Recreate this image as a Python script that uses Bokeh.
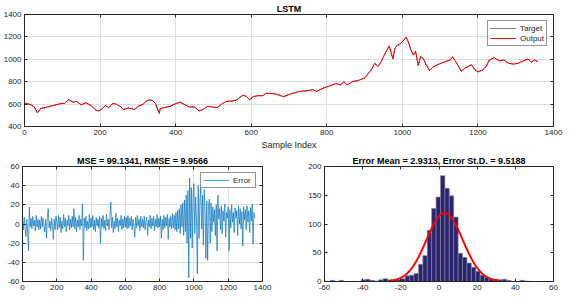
import numpy as np
from bokeh.plotting import figure
from bokeh.layouts import column, row
from bokeh.models import LinearAxis, FixedTicker, Legend, LegendItem, Range1d, PrintfTickFormatter
from bokeh.embed import file_html
from bokeh.resources import INLINE

# ---------------- data ----------------
ts_index = [0, 9, 17, 26, 34, 43, 60, 77, 94, 107, 116, 129, 137, 150, 163, 176, 189, 197, 206, 214,
            223, 232, 240, 253, 262, 275, 283, 292, 300, 313, 322, 330, 339, 347, 354, 357, 359, 369, 386, 399,
            412, 425, 437, 450, 462, 472, 485, 498, 510, 523, 536, 549, 562, 570, 579, 588, 596, 605, 618, 631,
            639, 652, 665, 678, 686, 704, 726, 747, 764, 773, 790, 807, 824, 837, 845, 854, 867, 884, 901, 909,
            918, 927, 935, 944, 952, 959, 965, 969, 975, 980, 986, 995, 1003, 1010, 1016, 1022, 1029, 1035, 1042, 1048,
            1055, 1063, 1072, 1080, 1089, 1102, 1115, 1127, 1133, 1140, 1149, 1156, 1166, 1174, 1183, 1192, 1200, 1213, 1222, 1230,
            1243, 1256, 1269, 1281, 1294, 1307, 1320, 1333, 1341, 1350, 1359]
target_vals = [607, 603, 594, 574, 522, 560, 574, 588, 603, 607, 640, 617, 626, 594, 612, 588, 545, 539, 560, 588,
               568, 603, 603, 580, 551, 565, 560, 551, 580, 597, 626, 638, 632, 603, 539, 518, 560, 568, 580, 603,
               617, 594, 574, 574, 539, 551, 580, 574, 568, 603, 626, 626, 638, 661, 681, 667, 638, 667, 675, 675,
               696, 696, 690, 675, 667, 690, 713, 719, 728, 713, 742, 762, 783, 771, 800, 771, 800, 812, 835, 870,
               907, 965, 936, 980, 1038, 1081, 1119, 1072, 1003, 1096, 1125, 1139, 1168, 1197, 1154, 1090, 1038, 1072, 945, 1023,
               1009, 951, 899, 928, 945, 965, 980, 994, 1023, 986, 936, 893, 922, 936, 951, 907, 887, 907, 936, 994,
               1014, 986, 994, 965, 957, 965, 986, 1003, 974, 994, 980]
output_vals = list(target_vals)

err_step = 5
error_vals = [
    3, -6, 7, -4, -13, 5, -9, -28, 18, -3, 6, -5, 8, -2, 4, -7, 9, -3, 5, -6,
    4, -5, 8, -3, 6, -2, -8, 5, -15, 7, 16, -4, 3, -7, 6, -2, -16, 5, -6, 8,
    2, -6, 9, -4, 7, -9, 3, -5, 10, -3, 6, -8, 4, -2, 9, -6, 5, -4, 8, -3,
    16, -5, 7, -8, 4, -3, 9, -6, 5, -2, 21, -38, 6, -4, 8, -7, 3, -5, 10, -4,
    6, -3, 9, -6, 4, -8, 7, -2, 5, -4, 8, -20, 6, -3, 9, -5, 4, -7, 10, -2,
    5, -6, 8, 23, -4, 7, -9, 3, -5, 11, -3, 6, -8, 4, -2, 9, -6, 5, -4, 8,
    -3, 7, -5, 9, -4, 6, -2, 8, -6, 5, -3, -14, 7, -4, 9, -2, 5, -7, 8, -3,
    5, -4, 8, -6, 3, 7, -12, 4, -3, 9, -5, 6, -2, 8, -7, 5, -3, 10, -4, 6,
    -3, 8, -15, 5, -6, 9, -4, 7, -2, 10, -16, 6, -3, 8, -5, 11, -4, 9, -6, 12,
    -8, 14, -5, 16, -10, 20, -3, 22, -12, 25, -8, 30, -20, 35, -56, 48, -15, 38, -25, 32,
    42, -10, 28, 5, -52, 40, -15, 25, 38, -5, 30, -22, 36, 12, -36, 24, -38, 18, 26, -20,
    22, -8, 18, 2, 15, -12, 20, -28, 30, 5, 16, -6, 19, -10, 14, 3, 21, -14, 12, 6,
    18, -28, 15, -4, 20, 2, 12, -9, 17, 6, 14, -12, 19, 0, 16, -5, 13, -23, 18, 4,
    15, -6, 19, 2, 14, -9, 17, 3, 21, -21, 12, 6]
err_index = [i * err_step for i in range(len(error_vals))]

hist_lo, hist_hi = -57, 47
hist_counts = [2, 0, 2, 0, 0, 0, 0, 3, 4, 2, 1, 3, 5, 3, 2, 3,
               5, 10, 11, 14, 30, 45, 89, 127, 147, 184, 162, 149, 112, 49, 42, 32, 25, 18, 11, 7,
               4, 4, 3, 4, 2, 0, 0, 2, 1]
err_mean, err_std = 2.9313, 9.5188
fit_peak = 119

top_title = "LSTM"
bl_title = "MSE = 99.1341, RMSE = 9.9566"
br_title = "Error Mean = 2.9313, Error St.D. = 9.5188"

# ---------------- style helpers ----------------
FONT = "Liberation Sans"
AX = "#262626"
GRID = "#dedede"


def style(p, xt, yt, grid=True):
    p.title.align = "center"
    p.title.text_font = FONT
    p.title.text_font_size = "9px"
    p.title.text_font_style = "bold"
    p.title.text_color = "#000000"
    p.title.standoff = 2
    p.outline_line_color = AX
    p.outline_line_width = 1
    p.outline_line_alpha = 1
    for ax in p.below + p.left:
        ax.axis_line_color = AX
        ax.major_tick_line_color = AX
        ax.major_tick_in = 3
        ax.major_tick_out = 0
        ax.minor_tick_line_color = None
        ax.major_label_text_font = FONT
        ax.major_label_text_font_size = "8px"
        ax.major_label_text_color = AX
        ax.major_label_standoff = 3
        ax.formatter = PrintfTickFormatter(format="%d")
        ax.axis_label_text_font = FONT
        ax.axis_label_text_font_size = "9px"
        ax.axis_label_text_font_style = "normal"
        ax.axis_label_text_color = AX
        ax.axis_label_standoff = 2
    p.below[0].ticker = FixedTicker(ticks=xt)
    p.left[0].ticker = FixedTicker(ticks=yt)
    # MATLAB-like ticks on top and right
    for loc in ("above", "right"):
        a = LinearAxis(ticker=FixedTicker(ticks=xt if loc == "above" else yt))
        a.major_label_text_font_size = "0px"
        a.major_label_standoff = 0
        a.axis_line_color = AX
        a.major_tick_line_color = AX
        a.major_tick_in = 3
        a.major_tick_out = 0
        a.minor_tick_line_color = None
        a.major_label_text_color = None
        p.add_layout(a, loc)
    if grid:
        p.xgrid.ticker = FixedTicker(ticks=xt)
        p.ygrid.ticker = FixedTicker(ticks=yt)
        p.grid.grid_line_color = GRID
        p.grid.grid_line_width = 1
    else:
        p.grid.grid_line_color = None
    p.background_fill_color = "white"
    p.border_fill_color = "white"


def style_legend(leg):
    leg.label_text_font = FONT
    leg.label_text_font_size = "8px"
    leg.label_text_color = AX
    leg.border_line_color = AX
    leg.border_line_width = 1
    leg.background_fill_alpha = 1
    leg.padding = 2
    leg.spacing = 0
    leg.margin = 6
    leg.glyph_width = 26
    leg.glyph_height = 10
    leg.label_height = 10
    leg.label_standoff = 4
    leg.location = "top_right"


# ---------------- top plot ----------------
p1 = figure(width=563, height=152, x_range=Range1d(0, 1400), y_range=Range1d(400, 1400),
            title=top_title, output_backend="svg", toolbar_location=None,
            min_border_left=22, min_border_right=10, min_border_top=0, min_border_bottom=0)
style(p1, list(range(0, 1401, 200)), list(range(400, 1401, 200)))
p1.below[0].axis_label = "Sample Index"
r_t = p1.line(ts_index, target_vals, line_color="black", line_dash="1 1", line_width=1)
r_o = p1.line(ts_index, output_vals, line_color="#ff0000", line_width=1)
leg1 = Legend(items=[LegendItem(label="Target", renderers=[r_t]), LegendItem(label="Output", renderers=[r_o])])
style_legend(leg1)
p1.add_layout(leg1, "center")

# ---------------- bottom left: error ----------------
p2 = figure(width=290, height=140, x_range=Range1d(0, 1400), y_range=Range1d(-60, 60),
            title=bl_title, output_backend="svg", toolbar_location=None,
            min_border_left=22, min_border_right=28, min_border_top=14, min_border_bottom=0)
style(p2, list(range(0, 1401, 200)), list(range(-60, 61, 20)))
r_e = p2.line(err_index, error_vals, line_color="#0072bd", line_width=0.7)
leg2 = Legend(items=[LegendItem(label="Error", renderers=[r_e])])
style_legend(leg2)
p2.add_layout(leg2, "center")

# ---------------- bottom right: histogram ----------------
edges = np.linspace(hist_lo, hist_hi, len(hist_counts) + 1)
p3 = figure(width=273, height=140, x_range=Range1d(-60, 60), y_range=Range1d(0, 200),
            title=br_title, output_backend="svg", toolbar_location=None,
            min_border_left=34, min_border_right=10, min_border_top=14, min_border_bottom=0)
style(p3, list(range(-60, 61, 20)), list(range(0, 201, 50)), grid=False)
p3.quad(left=edges[:-1], right=edges[1:], bottom=0, top=hist_counts,
        fill_color="#29246f", line_color="#8c8ca0", line_width=0.6)
xf = np.linspace(err_mean - 3 * err_std, err_mean + 3 * err_std, 200)
yf = fit_peak * np.exp(-0.5 * ((xf - err_mean) / err_std) ** 2)
p3.line(xf, yf, line_color="#ff0000", line_width=2)

layout = column(p1, row(p2, p3))
open("out.html", "w").write(file_html(layout, INLINE))
